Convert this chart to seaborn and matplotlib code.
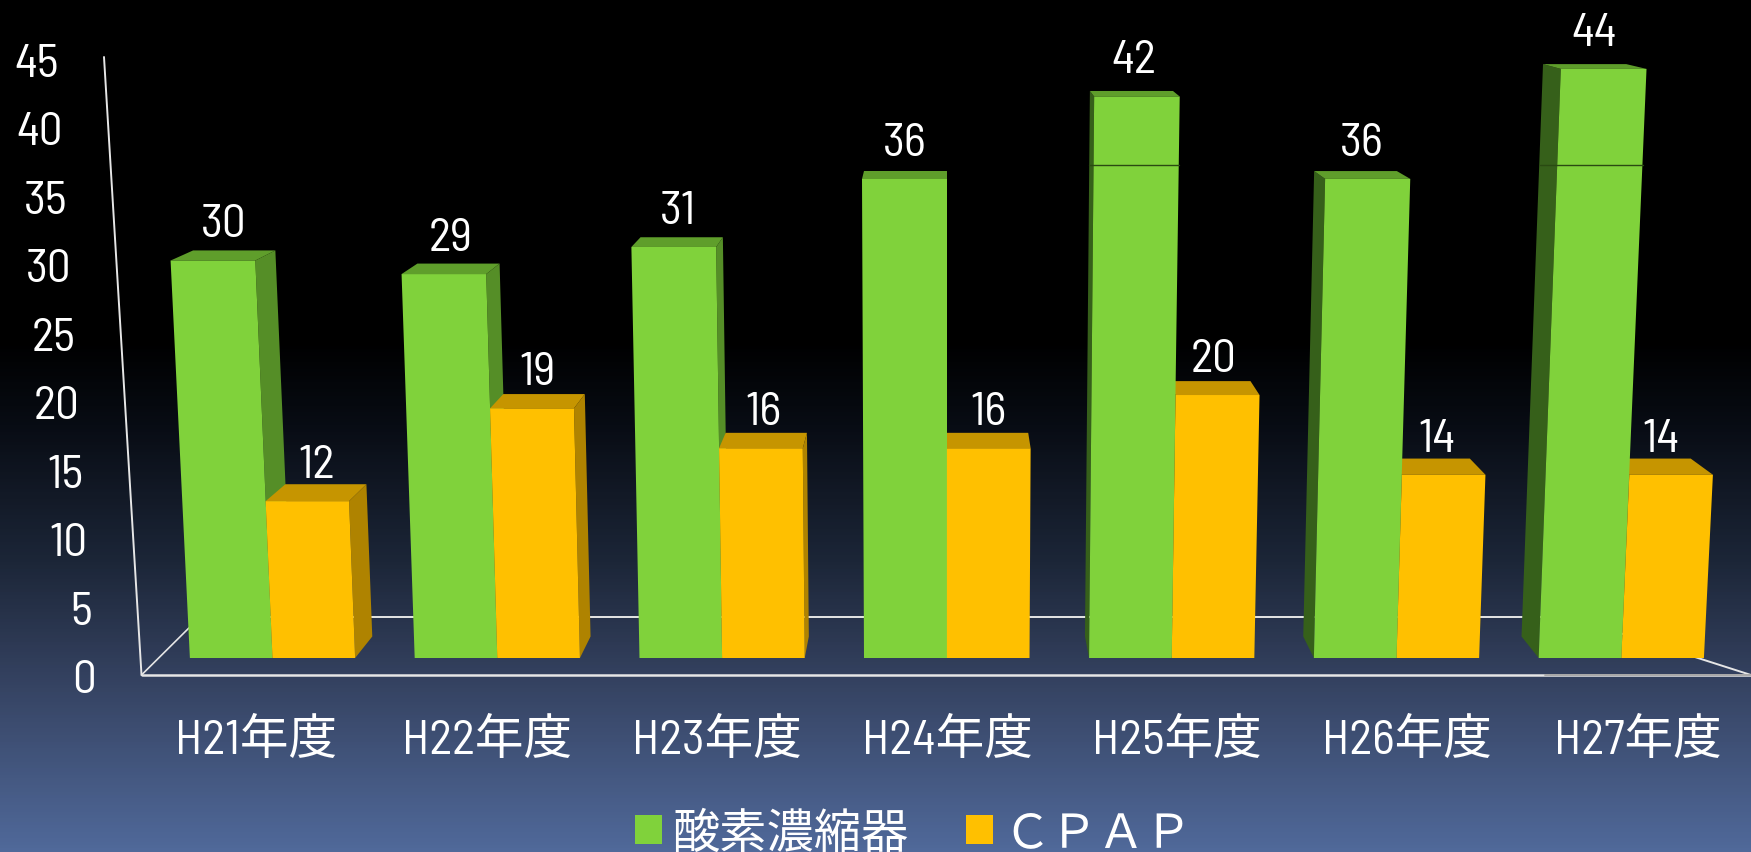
import numpy as np
import pandas as pd
import seaborn as sns
from matplotlib import pyplot as plt
from matplotlib.colors import LinearSegmentedColormap
from matplotlib.patches import Patch, Polygon

# Chart data
years = ["H21年度", "H22年度", "H23年度", "H24年度", "H25年度", "H26年度", "H27年度"]
oxygen = [30, 29, 31, 36, 42, 36, 44]
cpap = [12, 19, 16, 16, 20, 14, 14]
series_names = ["酸素濃縮器", "ＣＰＡＰ"]
y_ticks = [0, 5, 10, 15, 20, 25, 30, 35, 40, 45]

W, H = 1751, 853
BASE_Y = 659  # pixel row of the bar bases
PX_PER_UNIT = 12.95
XC = 3  # category the perspective is centred on

# Condensed latin first, the CJK family picks up everything else
FONT = ["Barlow Semi Condensed", "Noto Sans CJK JP", "DejaVu Sans"]
GREEN = "#80D23B"
ORANGE = "#FFC000"
FACES = {
    GREEN: {"top": "#5F9E2B", "right": "#558E27", "left": "#36601A"},
    ORANGE: {"top": "#C69500", "right": "#AF8300", "left": "#AF8300"},
}

sns.set_theme(style="white")
plt.rcParams["font.family"] = FONT


# Front plane of the fake 3D box: tall bars lean away from the centre
def front(x, h):
    return XC + (x - XC) * (1 + 0.00085 * h), h * (1 + 0.00077 * h)


# Same point pushed to the back plane of the box
def back(x, h):
    fx, fy = front(x, h)
    return fx - 0.029 * (fx - XC), fy + (21.5 - 0.38 * h) / PX_PER_UNIT


fig = plt.figure(figsize=(W / 100, H / 100), dpi=100)

# Background gradient and chart frame, in pixel coordinates
bg = fig.add_axes([0, 0, 1, 1])
stops = [(0, "#000000"), (0.40, "#000000"), (0.50, "#080C14"), (0.66, "#1C2638"),
         (0.76, "#2E3A55"), (0.85, "#3C4C6F"), (1, "#50699A")]
cmap = LinearSegmentedColormap.from_list("slide", stops)
bg.imshow(np.linspace(0, 1, H).reshape(-1, 1), cmap=cmap, aspect="auto", extent=[0, W, H, 0])
bg.set_xlim(0, W)
bg.set_ylim(H, 0)
bg.set_axis_off()

frame_color = "#E6E6E6"
bg.plot([104, 141.5], [58, 676], color=frame_color, lw=1.4)
bg.plot([141.5, 1751], [676, 676], color=frame_color, lw=1.8)
bg.plot([141.5, 200], [676, 618], color=frame_color, lw=1.2)
bg.plot([200, 1570], [618, 618], color=frame_color, lw=1.4)
bg.plot([1570, 1751], [618, 676], color=frame_color, lw=1.4)
bg.plot([1545, 1751], [675.5, 675.5], color="#A8A8A8", lw=1.4)

# Y tick labels follow the slanted wall
for t in y_ticks:
    bg.text(96 - 0.82 * t, 681 - 13.69 * t, str(t), color="white", fontsize=34,
            ha="right", va="center")

# X tick labels
for i, year in enumerate(years):
    bg.text(947 + 230.2 * (i - XC), 741, year, color="white", fontsize=35,
            ha="center", va="center")

# Bars
ax = fig.add_axes([0, 0, 1, 1])
ax.patch.set_alpha(0)
df = pd.DataFrame({
    "year": years * 2,
    "device": [series_names[0]] * len(years) + [series_names[1]] * len(years),
    "count": oxygen + cpap,
})
sns.barplot(data=df, x="year", y="count", hue="device", palette=[GREEN, ORANGE],
            width=0.735, gap=0, saturation=1, legend=False, ax=ax)

for container, color in zip(ax.containers, [GREEN, ORANGE]):
    for bar in container:
        x0 = bar.get_x()
        x1 = x0 + bar.get_width()
        h = bar.get_height()
        center = (x0 + x1) / 2
        bar.set_visible(False)

        # Draw order flips either side of the centre so the faces overlap properly
        z = 3 if (center < XC) == (color == GREEN) else 4
        if x1 < XC - 0.01:
            ax.add_patch(Polygon([front(x1, 0), back(x1, 0), back(x1, h), front(x1, h)],
                                 facecolor=FACES[color]["right"], edgecolor="none", zorder=z))
        if x0 > XC + 0.01:
            ax.add_patch(Polygon([front(x0, 0), back(x0, 0), back(x0, h), front(x0, h)],
                                 facecolor=FACES[color]["left"], edgecolor="none", zorder=z))
        ax.add_patch(Polygon([front(x0, h), front(x1, h), back(x1, h), back(x0, h)],
                             facecolor=FACES[color]["top"], edgecolor="none", zorder=z + 0.1))
        ax.add_patch(Polygon([front(x0, 0), front(x1, 0), front(x1, h), front(x0, h)],
                             facecolor=color, edgecolor="none", zorder=z + 0.2))

        # Thin seam that crosses the two tallest green bars
        if color == GREEN and h > 40:
            seam = 37.0
            left = back(x0, seam)[0] if x0 > XC + 0.01 else front(x0, seam)[0]
            ax.plot([left, front(x1, seam)[0]], [front(x1, seam)[1]] * 2,
                    color="#2A4A12", lw=1, zorder=z + 0.3)

        fx, fy = front(center, h)
        ax.annotate(f"{h:.0f}", (fx - 0.014 * (fx - XC), fy), xytext=(0, 26),
                    textcoords="offset points", color="white", fontsize=34,
                    ha="center", va="center", zorder=6)

ax.set_xlim(-272.5 / 224.8, (W - 272.5) / 224.8)
ax.set_ylim(-(H - BASE_Y) / PX_PER_UNIT, BASE_Y / PX_PER_UNIT)
ax.set_axis_off()

# Legend
handles = [Patch(facecolor=GREEN, edgecolor="none"), Patch(facecolor=ORANGE, edgecolor="none")]
ax.legend(handles, series_names, loc="lower left", bbox_to_anchor=(635 / W, -0.004), ncol=2,
          frameon=False, fontsize=34, labelcolor="white", handlelength=0.58, handleheight=0.58,
          handletextpad=0.22, columnspacing=1.2, borderpad=0, borderaxespad=0)

plt.savefig("out.png", dpi=100)
